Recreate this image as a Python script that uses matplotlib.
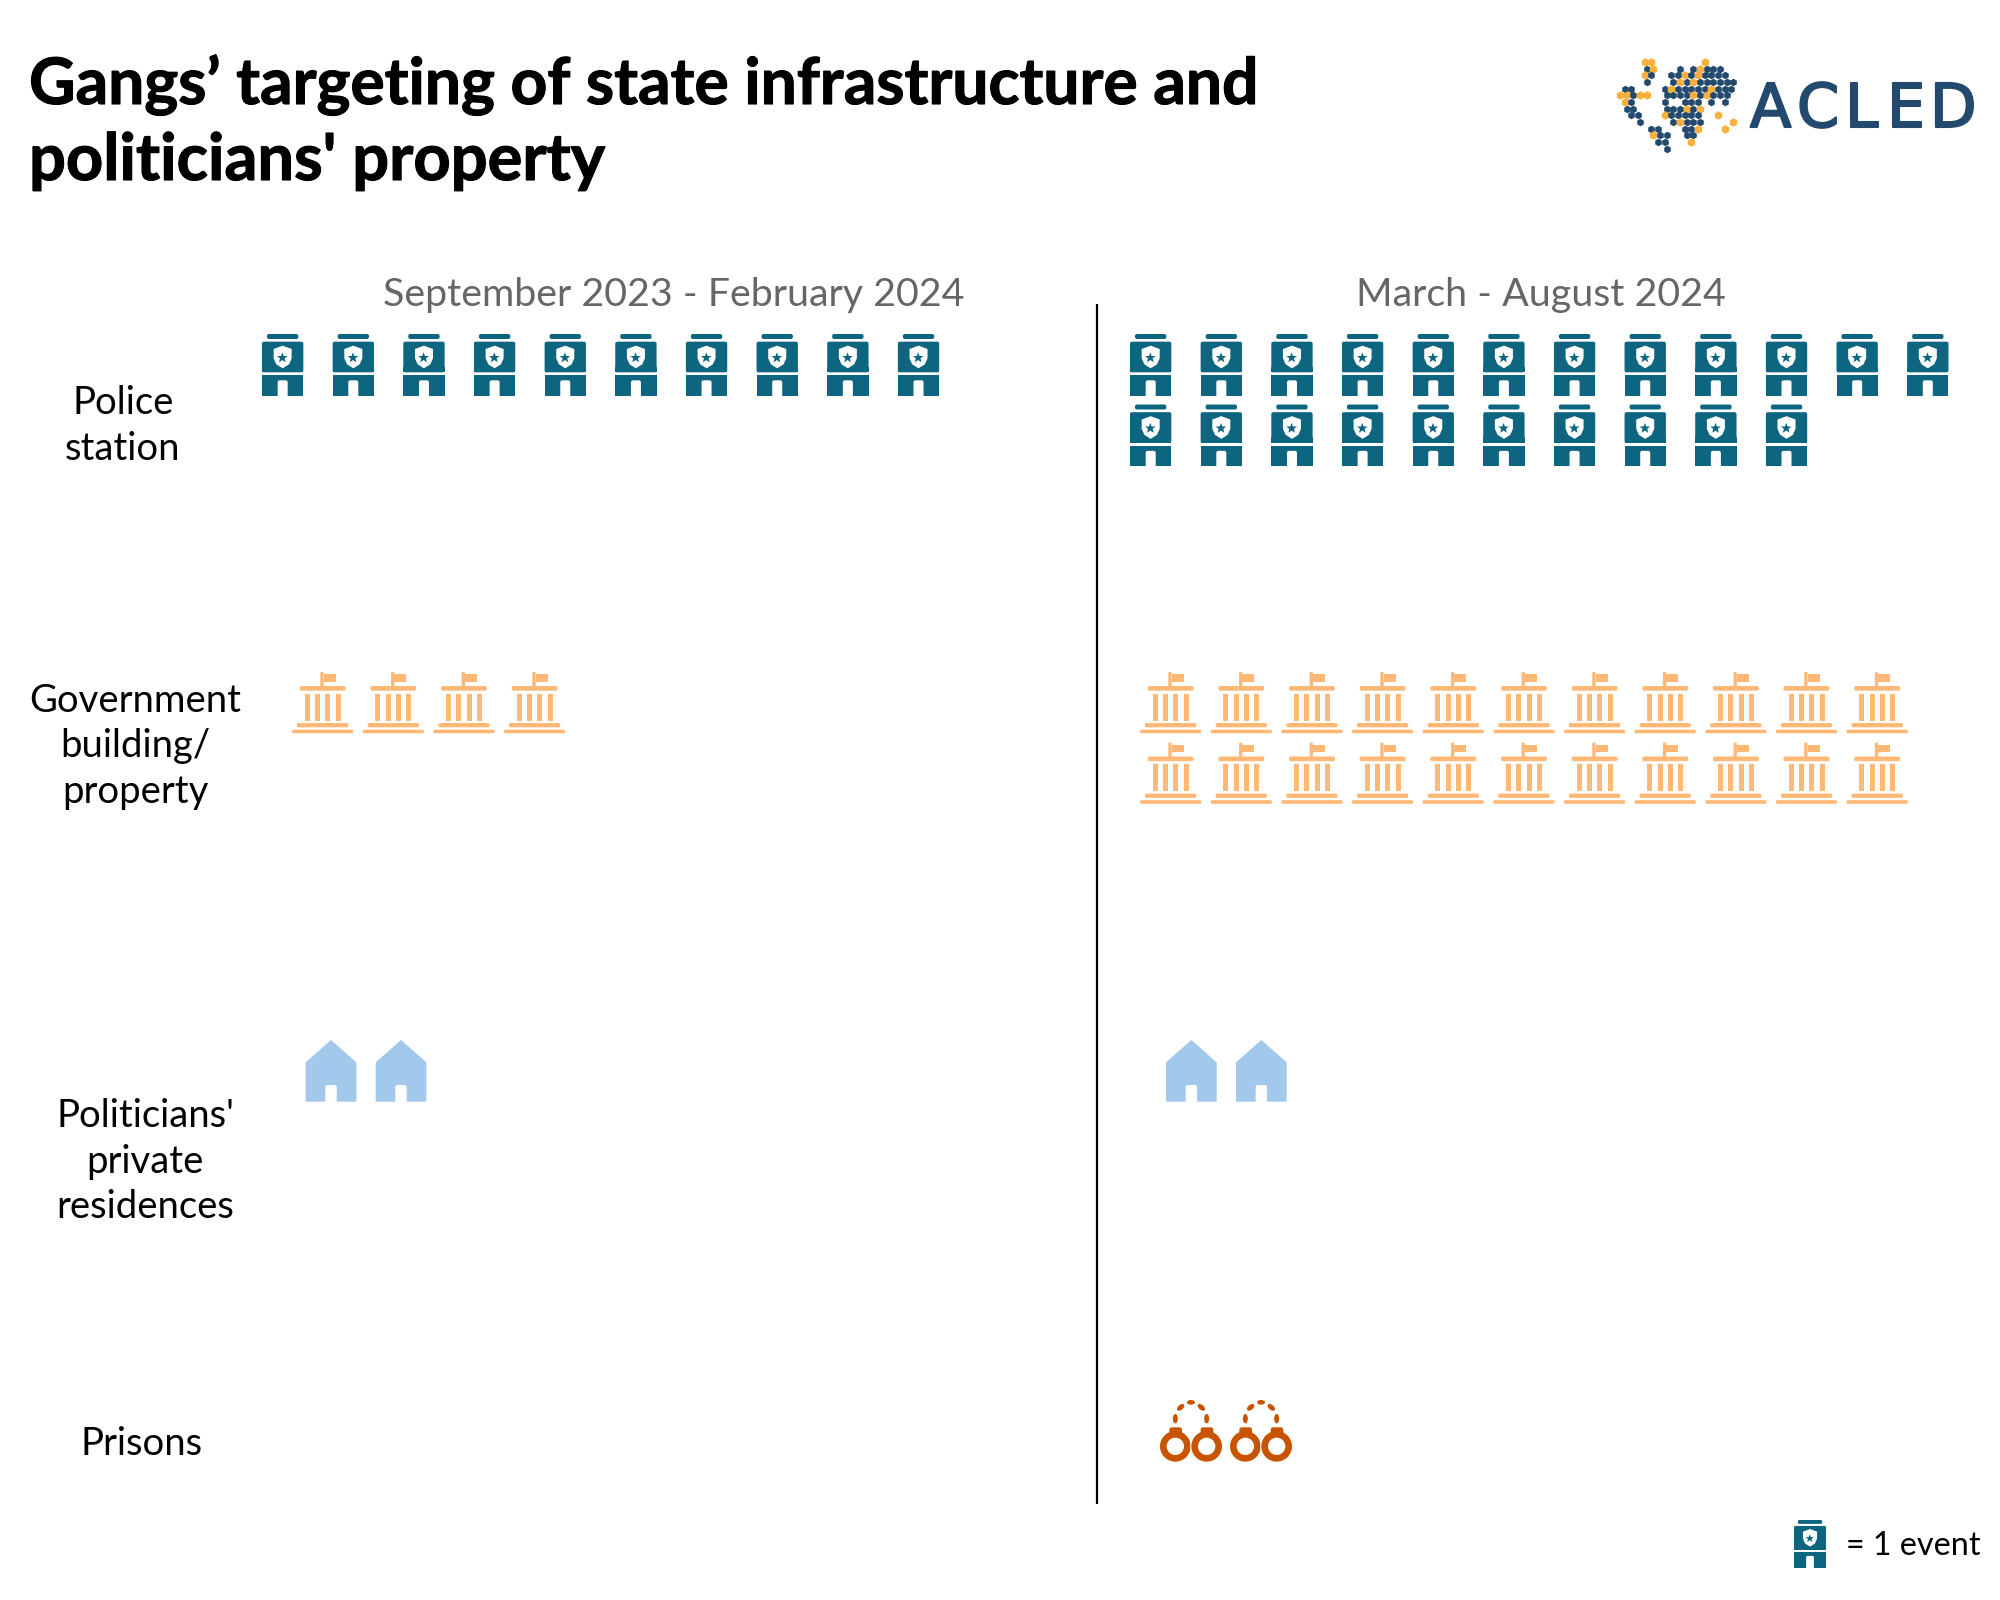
import matplotlib
matplotlib.use("Agg")
import matplotlib.pyplot as plt
import matplotlib.patheffects as pe
from matplotlib.patches import FancyBboxPatch, Polygon, Circle, Rectangle, Ellipse
from matplotlib.transforms import Affine2D

plt.rcParams['font.family'] = ['Lato', 'DejaVu Sans']

title_lines = ["Gangs\u2019 targeting of state infrastructure and", "politicians' property"]
periods = ["September 2023 - February 2024", "March - August 2024"]
categories = ["Police\nstation", "Government\nbuilding/\nproperty", "Politicians'\nprivate\nresidences", "Prisons"]
icon_kinds = ["police", "government", "house", "cuffs"]
events_first = [10, 4, 2, 0]
events_second = [22, 22, 2, 2]
row_caps = {"police": [10, 12], "government": [4, 11], "house": [2, 2], "cuffs": [2, 2]}
legend_text = "= 1 event"

# rough world map for the logo: b = blue dot, o = orange dot
logo_rows = [
    "    oo       o      ",
    "    bo   b bobbb    ",
    "    ob  bbobobbbb   ",
    "    b   bobobbbbbb  ",
    " bb    bobbbbbobbb  ",
    "ooboo  bbbbobobbb   ",
    " ob    b  bbb b b   ",
    " bb    bbbobo       ",
    "  bb   obbbbb  o    ",
    "   b    bobbb    o  ",
    "     bb   bbo   o   ",
    "     obb  bb        ",
    "      bb   o        ",
    "       b            ",
]

TEAL = "#0e6580"
PEACH = "#ffb875"
SKY = "#a2c9ec"
RUST = "#c95400"
NAVY = "#234a6e"
AMBER = "#fbb03b"


def rbox(x0, y0, x1, y1, r, color):
    return FancyBboxPatch((x0, y0), x1 - x0, y1 - y0, boxstyle=f"round,pad=0,rounding_size={r}",
                          fc=color, ec="none", lw=0)


def police_parts():
    star = [(98, 97), (102, 108), (114, 108), (105, 115), (108, 127), (98, 120), (88, 127), (91, 115), (82, 108), (94, 108)]
    return [
        rbox(52, 42, 146, 57, 6, TEAL),
        rbox(37, 65, 161, 157, 6, TEAL),
        Rectangle((37, 140), 124, 17, fc=TEAL, ec="none"),
        Rectangle((37, 166), 124, 62, fc=TEAL, ec="none"),
        rbox(84, 181, 114, 235, 6, "white"),
        Polygon([(72, 87), (99, 77), (126, 87), (126, 115), (118, 133), (99, 145), (80, 133), (72, 115)], fc="white", ec="none"),
        Polygon(star, fc=TEAL, ec="none"),
    ]


def government_parts():
    parts = [
        rbox(122, 37, 132, 85, 4, PEACH),
        Rectangle((132, 44), 36, 23, fc=PEACH, ec="none"),
        rbox(60, 79, 198, 93, 6, PEACH),
        rbox(52, 190, 206, 203, 5, PEACH),
        rbox(37, 210, 221, 221, 5, PEACH),
    ]
    for col_x in (75, 106, 137, 168):
        parts.append(Rectangle((col_x, 102), 15, 81, fc=PEACH, ec="none"))
    return parts


def house_parts():
    return [
        Polygon([(123, 60), (199, 127), (199, 245), (47, 245), (47, 127)], fc=SKY, ec="none"),
        rbox(106, 195, 140, 255, 6, "white"),
    ]


def cuffs_parts():
    parts = []
    for cx, cy, w, h, a in [(76, 116, 15, 28, 0), (92, 82, 15, 26, 50), (123, 67, 24, 14, 0), (154, 82, 15, 26, -50), (170, 116, 15, 28, 0)]:
        parts.append(Ellipse((cx, cy), w, h, angle=a, fc=RUST, ec="none"))
    parts.append(rbox(58, 142, 96, 165, 7, RUST))
    parts.append(Circle((76, 199), 46, fc=RUST, ec="none"))
    parts.append(Circle((76, 199), 26, fc="white", ec="none"))
    parts.append(Circle((170, 199), 49, fc="white", ec="none"))
    parts.append(rbox(152, 142, 190, 165, 7, RUST))
    parts.append(Circle((170, 199), 46, fc=RUST, ec="none"))
    parts.append(Circle((170, 199), 26, fc="white", ec="none"))
    return parts


ICONS = {"police": (police_parts, 37, 42), "government": (government_parts, 37, 37),
         "house": (house_parts, 47, 60), "cuffs": (cuffs_parts, 30, 60)}


def draw_icon(ax, kind, x, y, scale=1.0):
    # shapes are sketched in the 3x zoom units, x/y is the icon's top left in pixels
    build, ox, oy = ICONS[kind]
    tr = Affine2D().translate(-ox, -oy).scale(scale / 3).translate(x, y) + ax.transData
    for part in build():
        part.set_transform(tr)
        ax.add_patch(part)


fig = plt.figure(figsize=(20, 16), dpi=100)
ax = fig.add_axes([0, 0, 1, 1])
ax.set_xlim(0, 2000)
ax.set_ylim(1600, 0)
ax.axis("off")

heavy = [pe.withStroke(linewidth=0.8, foreground="black")]
ax.text(29, 104, title_lines[0], fontsize=46.2, fontweight="bold", color="black", va="baseline", path_effects=heavy)
ax.text(29, 180, title_lines[1], fontsize=46.8, fontweight="bold", color="black", va="baseline", path_effects=heavy)

for label, cx in zip(periods, [673.5, 1541]):
    ax.text(cx, 306, label, fontsize=28.4, color="#666666", ha="center", va="baseline")

ax.plot([1096.5, 1096.5], [304, 1504], color="black", lw=1.6, solid_capstyle="butt")

label_x = [123, 135, 145, 142]
label_y = [414, 712, 1127, 1455]
line_gap = 45.5
for label, x, y in zip(categories, label_x, label_y):
    for i, line in enumerate(label.split("\n")):
        ax.text(x, y + i * line_gap, line, fontsize=27.5, color="black", ha="center", va="baseline")

start_x = {"police": [262, 1130], "government": [292, 1140], "house": [305.7, 1166], "cuffs": [292, 1160]}
start_y = {"police": 334, "government": 672, "house": 1040, "cuffs": 1400}
col_step = {"police": 70.65, "government": 70.65, "house": 70, "cuffs": 70}
row_step = 70.5

for kind, n1, n2 in zip(icon_kinds, events_first, events_second):
    for panel, n in enumerate([n1, n2]):
        cap = row_caps[kind][panel]
        for i in range(n):
            row, col = divmod(i, cap)
            draw_icon(ax, kind, start_x[kind][panel] + col * col_step[kind], start_y[kind] + row * row_step)

# legend
draw_icon(ax, "police", 1794, 1520, scale=0.775)
ax.text(1846, 1555, legend_text, fontsize=23.3, color="black", va="baseline")

# logo
pitch = 20 / 3
for r, row in enumerate(logo_rows):
    for c, ch in enumerate(row):
        if ch == " ":
            continue
        x = 1618 + c * pitch + (r % 2) * 2
        y = 62 + r * pitch
        ax.scatter(x, y, s=30 if ch == "b" else 38, color=NAVY if ch == "b" else AMBER, linewidths=0, marker="h")
logo_x = [1750, 1797, 1845, 1887, 1930]
logo_stroke = [pe.withStroke(linewidth=1.5, foreground=NAVY)]
for ch, x in zip("ACLED", logo_x):
    ax.text(x, 127, ch, fontsize=43.5, family="DejaVu Sans", color=NAVY, va="baseline", path_effects=logo_stroke)

fig.savefig("out.png", dpi=100, facecolor="white")
